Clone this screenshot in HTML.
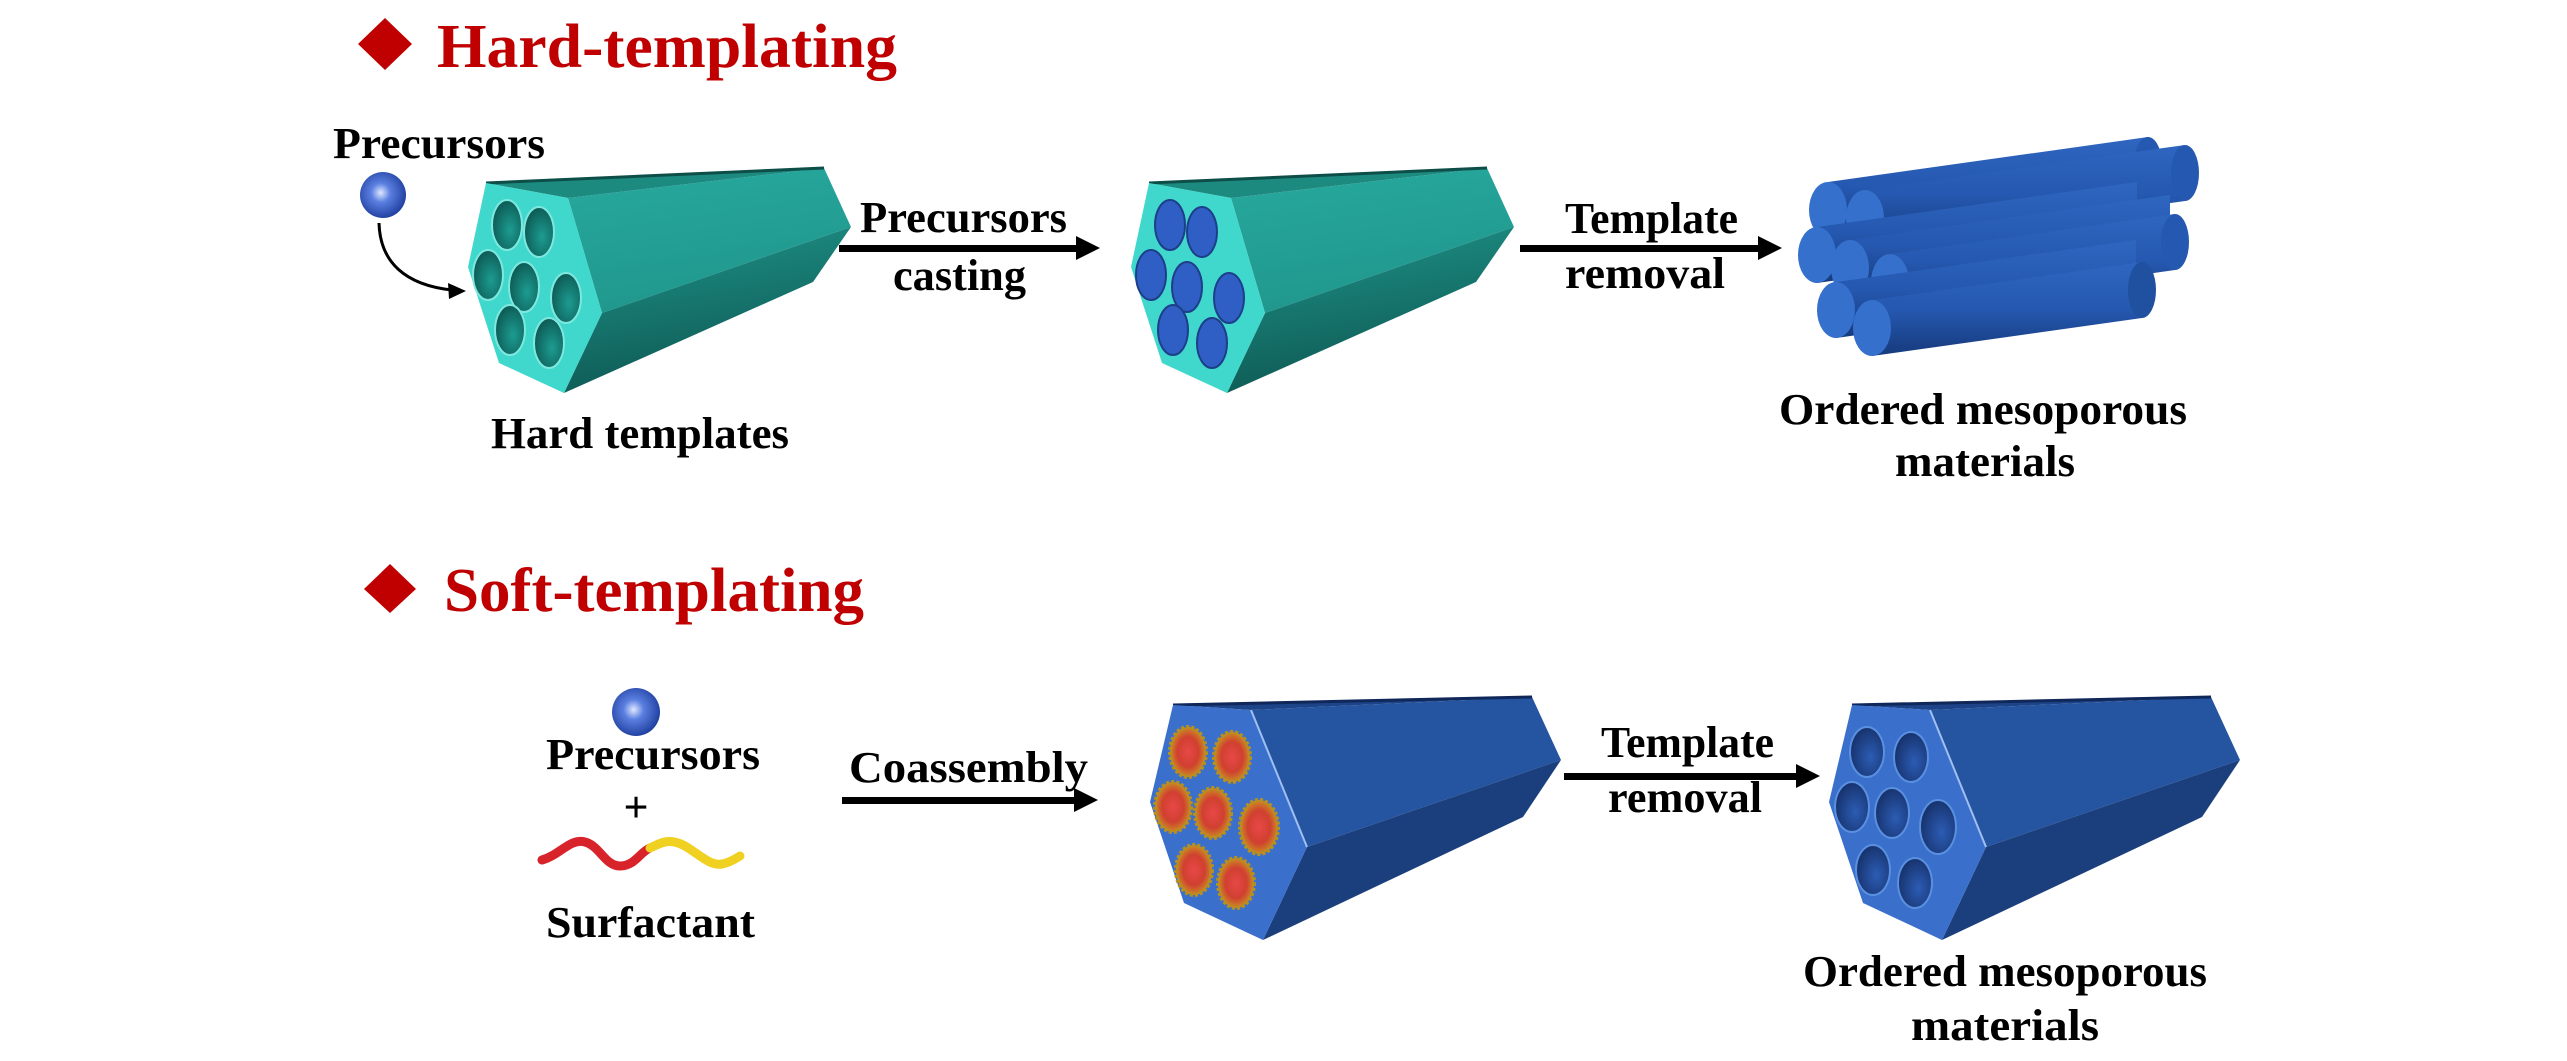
<!DOCTYPE html>
<html><head><meta charset="utf-8"><style>
html,body{margin:0;padding:0;background:#fff;}
svg{display:block;}
text{font-family:"Liberation Serif",serif;font-weight:bold;fill:#000;}
</style></head><body>
<svg width="2567" height="1061" viewBox="0 0 2567 1061" xmlns="http://www.w3.org/2000/svg">
<defs>
<radialGradient id="ball" cx="0.45" cy="0.45" r="0.6"><stop offset="0" stop-color="#dfe8ff"/><stop offset="0.35" stop-color="#5a7fe0"/><stop offset="1" stop-color="#1b3a9a"/></radialGradient>
<linearGradient id="tealSide" x1="0" y1="0" x2="0.3" y2="1"><stop offset="0" stop-color="#27a99e"/><stop offset="1" stop-color="#20978d"/></linearGradient>
<linearGradient id="tealLow" x1="0" y1="0" x2="0.3" y2="1"><stop offset="0" stop-color="#1f958b"/><stop offset="1" stop-color="#0e5a54"/></linearGradient>
<radialGradient id="tealPore" cx="0.6" cy="0.6" r="0.6"><stop offset="0" stop-color="#1d9c91"/><stop offset="1" stop-color="#0d5c56"/></radialGradient>
<radialGradient id="bluePore" cx="0.6" cy="0.6" r="0.6"><stop offset="0" stop-color="#2c5cb4"/><stop offset="1" stop-color="#17336e"/></radialGradient>
<radialGradient id="mic" cx="0.5" cy="0.5" r="0.55"><stop offset="0" stop-color="#e84848"/><stop offset="0.55" stop-color="#d04030"/><stop offset="1" stop-color="#c9a020"/></radialGradient>
<linearGradient id="rod" x1="0" y1="0" x2="0" y2="1"><stop offset="0" stop-color="#2f66c0"/><stop offset="0.5" stop-color="#2558b0"/><stop offset="1" stop-color="#163a7c"/></linearGradient>
</defs>

<!-- Titles -->
<polygon points="385,18 412,44 385,70 358,44" fill="#c00000"/>
<text x="437" y="67" font-size="62" style="fill:#c00000" textLength="460" lengthAdjust="spacingAndGlyphs">Hard-templating</text>
<polygon points="390,564 416,589 390,613 364,589" fill="#c00000"/>
<text x="444" y="611" font-size="62" style="fill:#c00000" textLength="420" lengthAdjust="spacingAndGlyphs">Soft-templating</text>

<!-- Section 1 -->
<text x="333" y="158" font-size="44" textLength="212" lengthAdjust="spacingAndGlyphs">Precursors</text>
<circle cx="383" cy="195" r="23" fill="url(#ball)"/>
<path d="M379,223 C380,262 405,285 452,290" fill="none" stroke="#000" stroke-width="3"/>
<polygon points="466,291 448,283 449,299" fill="#000"/>

<!-- Prism 1 (teal) -->
<g id="p1">
<polygon points="568,198 824,168 851,227 602,313" fill="url(#tealSide)"/>
<polygon points="602,313 851,227 813,282 564,393" fill="url(#tealLow)"/>
<polygon points="486,183 824,168 568,198" fill="#1d8a80"/>
<line x1="486" y1="183" x2="824" y2="168" stroke="#0d4e49" stroke-width="3"/>
<polygon points="486,183 568,198 602,313 564,393 499,363 468,267" fill="#40d8cc"/>
<g fill="url(#tealPore)" stroke="#7ee8df" stroke-width="2">
<ellipse cx="507" cy="225" rx="15" ry="25"/><ellipse cx="539" cy="232" rx="15" ry="25"/>
<ellipse cx="488" cy="275" rx="15" ry="25"/><ellipse cx="524" cy="287" rx="15" ry="25"/><ellipse cx="566" cy="298" rx="15" ry="25"/>
<ellipse cx="510" cy="330" rx="15" ry="25"/><ellipse cx="549" cy="343" rx="15" ry="25"/>
</g>
</g>

<text x="491" y="448" font-size="44" textLength="298" lengthAdjust="spacingAndGlyphs">Hard templates</text>

<!-- Arrow 1 -->
<text x="860" y="232" font-size="44" textLength="207" lengthAdjust="spacingAndGlyphs">Precursors</text>
<text x="893" y="290" font-size="44" textLength="133" lengthAdjust="spacingAndGlyphs">casting</text>
<rect x="839" y="245" width="240" height="7" fill="#000"/>
<polygon points="1100,248 1076,236 1076,260" fill="#000"/>

<!-- Prism 2 -->
<g transform="translate(663,0)">
<polygon points="568,198 824,168 851,227 602,313" fill="url(#tealSide)"/>
<polygon points="602,313 851,227 813,282 564,393" fill="url(#tealLow)"/>
<polygon points="486,183 824,168 568,198" fill="#1d8a80"/>
<line x1="486" y1="183" x2="824" y2="168" stroke="#0d4e49" stroke-width="3"/>
<polygon points="486,183 568,198 602,313 564,393 499,363 468,267" fill="#40d8cc"/>
<g fill="#2f5fc4" stroke="#1d3f8a" stroke-width="2">
<ellipse cx="507" cy="225" rx="15" ry="25"/><ellipse cx="539" cy="232" rx="15" ry="25"/>
<ellipse cx="488" cy="275" rx="15" ry="25"/><ellipse cx="524" cy="287" rx="15" ry="25"/><ellipse cx="566" cy="298" rx="15" ry="25"/>
<ellipse cx="510" cy="330" rx="15" ry="25"/><ellipse cx="549" cy="343" rx="15" ry="25"/>
</g>
</g>

<!-- Arrow 2 -->
<text x="1565" y="233" font-size="44" textLength="173" lengthAdjust="spacingAndGlyphs">Template</text>
<text x="1565" y="288" font-size="44" textLength="160" lengthAdjust="spacingAndGlyphs">removal</text>
<rect x="1520" y="245" width="242" height="7" fill="#000"/>
<polygon points="1782,248 1758,236 1758,260" fill="#000"/>

<!-- Rods -->
<g>
<g transform="translate(1828,210)"><polygon points="0,-28 320,-73 320,-17 0,28" fill="url(#rod)"/><ellipse cx="320" cy="-45" rx="14" ry="28" fill="#2558b0"/><ellipse cx="0" cy="0" rx="19" ry="28" fill="#3470cc"/></g>
<g transform="translate(1865,218)"><polygon points="0,-28 320,-73 320,-17 0,28" fill="url(#rod)"/><ellipse cx="320" cy="-45" rx="14" ry="28" fill="#2558b0"/><ellipse cx="0" cy="0" rx="19" ry="28" fill="#3470cc"/></g>
<g transform="translate(1817,255)"><polygon points="0,-28 320,-73 320,-17 0,28" fill="url(#rod)"/><ellipse cx="0" cy="0" rx="19" ry="28" fill="#3470cc"/></g>
<g transform="translate(1850,268)"><polygon points="0,-28 320,-73 320,-17 0,28" fill="url(#rod)"/><ellipse cx="0" cy="0" rx="19" ry="28" fill="#3470cc"/></g>
<g transform="translate(1890,282)"><polygon points="0,-28 285,-68 285,-12 0,28" fill="url(#rod)"/><ellipse cx="285" cy="-40" rx="14" ry="28" fill="#2558b0"/><ellipse cx="0" cy="0" rx="19" ry="28" fill="#3470cc"/></g>
<g transform="translate(1836,310)"><polygon points="0,-28 300,-70 300,-14 0,28" fill="url(#rod)"/><ellipse cx="0" cy="0" rx="19" ry="28" fill="#3470cc"/></g>
<g transform="translate(1872,328)"><polygon points="0,-28 270,-66 270,-10 0,28" fill="url(#rod)"/><ellipse cx="270" cy="-38" rx="14" ry="28" fill="#2050a0"/><ellipse cx="0" cy="0" rx="19" ry="28" fill="#3470cc"/></g>
</g>

<text x="1779" y="424" font-size="44" textLength="408" lengthAdjust="spacingAndGlyphs">Ordered mesoporous</text>
<text x="1895" y="476" font-size="44" textLength="180" lengthAdjust="spacingAndGlyphs">materials</text>

<!-- Section 2 -->
<circle cx="636" cy="712" r="24" fill="url(#ball)"/>
<text x="546" y="769" font-size="44" textLength="214" lengthAdjust="spacingAndGlyphs">Precursors</text>
<text x="636" y="822" font-size="44" text-anchor="middle">+</text>
<path d="M542,860 C560,855 570,838 585,842 C600,846 605,866 620,866 C635,866 640,852 650,848" fill="none" stroke="#d8232a" stroke-width="9" stroke-linecap="round"/>
<path d="M650,848 C662,842 670,838 685,846 C700,855 710,866 722,864 C732,862 736,858 740,856" fill="none" stroke="#f0d020" stroke-width="9" stroke-linecap="round"/>
<text x="546" y="937" font-size="44" textLength="209" lengthAdjust="spacingAndGlyphs">Surfactant</text>

<text x="849" y="782" font-size="44" textLength="239" lengthAdjust="spacingAndGlyphs">Coassembly</text>
<rect x="842" y="797" width="236" height="7" fill="#000"/>
<polygon points="1098,800 1074,788 1074,812" fill="#000"/>

<!-- Prism 3 -->
<g id="p3">
<polygon points="1251,710 1532,697 1561,760 1307,847" fill="#2554a0"/>
<polygon points="1307,847 1561,760 1523,817 1263,940" fill="#1b3f7c"/>
<polygon points="1173,705 1532,697 1251,710" fill="#1d4488"/>
<line x1="1173" y1="705" x2="1532" y2="697" stroke="#10275a" stroke-width="3"/>
<polygon points="1173,705 1251,710 1307,847 1263,940 1184,903 1150,802" fill="#3a6fcc"/>
<line x1="1251" y1="710" x2="1307" y2="847" stroke="#9fc0f0" stroke-width="2"/>
</g>
<g fill="url(#mic)" stroke="#b59020" stroke-width="4" stroke-dasharray="3 2">
<ellipse cx="1188" cy="752" rx="18" ry="25"/><ellipse cx="1232" cy="757" rx="18" ry="25"/>
<ellipse cx="1173" cy="807" rx="18" ry="25"/><ellipse cx="1213" cy="813" rx="18" ry="25"/><ellipse cx="1259" cy="827" rx="19" ry="27"/>
<ellipse cx="1194" cy="870" rx="18" ry="25"/><ellipse cx="1236" cy="883" rx="18" ry="25"/>
</g>

<!-- Arrow 3 -->
<text x="1601" y="757" font-size="44" textLength="173" lengthAdjust="spacingAndGlyphs">Template</text>
<text x="1608" y="812" font-size="44" textLength="154" lengthAdjust="spacingAndGlyphs">removal</text>
<rect x="1564" y="773" width="236" height="7" fill="#000"/>
<polygon points="1820,776 1796,764 1796,788" fill="#000"/>

<!-- Prism 4 -->
<g transform="translate(679,0)">
<polygon points="1251,710 1532,697 1561,760 1307,847" fill="#2554a0"/>
<polygon points="1307,847 1561,760 1523,817 1263,940" fill="#1b3f7c"/>
<polygon points="1173,705 1532,697 1251,710" fill="#1d4488"/>
<line x1="1173" y1="705" x2="1532" y2="697" stroke="#10275a" stroke-width="3"/>
<polygon points="1173,705 1251,710 1307,847 1263,940 1184,903 1150,802" fill="#3a6fcc"/>
<line x1="1251" y1="710" x2="1307" y2="847" stroke="#9fc0f0" stroke-width="2"/>
<g fill="url(#bluePore)" stroke="#5a90e0" stroke-width="2">
<ellipse cx="1188" cy="752" rx="17" ry="25"/><ellipse cx="1232" cy="757" rx="17" ry="25"/>
<ellipse cx="1173" cy="807" rx="17" ry="25"/><ellipse cx="1213" cy="813" rx="17" ry="25"/><ellipse cx="1259" cy="827" rx="18" ry="27"/>
<ellipse cx="1194" cy="870" rx="17" ry="25"/><ellipse cx="1236" cy="883" rx="17" ry="25"/>
</g>
</g>

<text x="1803" y="986" font-size="44" textLength="404" lengthAdjust="spacingAndGlyphs">Ordered mesoporous</text>
<text x="1911" y="1040" font-size="44" textLength="188" lengthAdjust="spacingAndGlyphs">materials</text>
</svg>
</body></html>
